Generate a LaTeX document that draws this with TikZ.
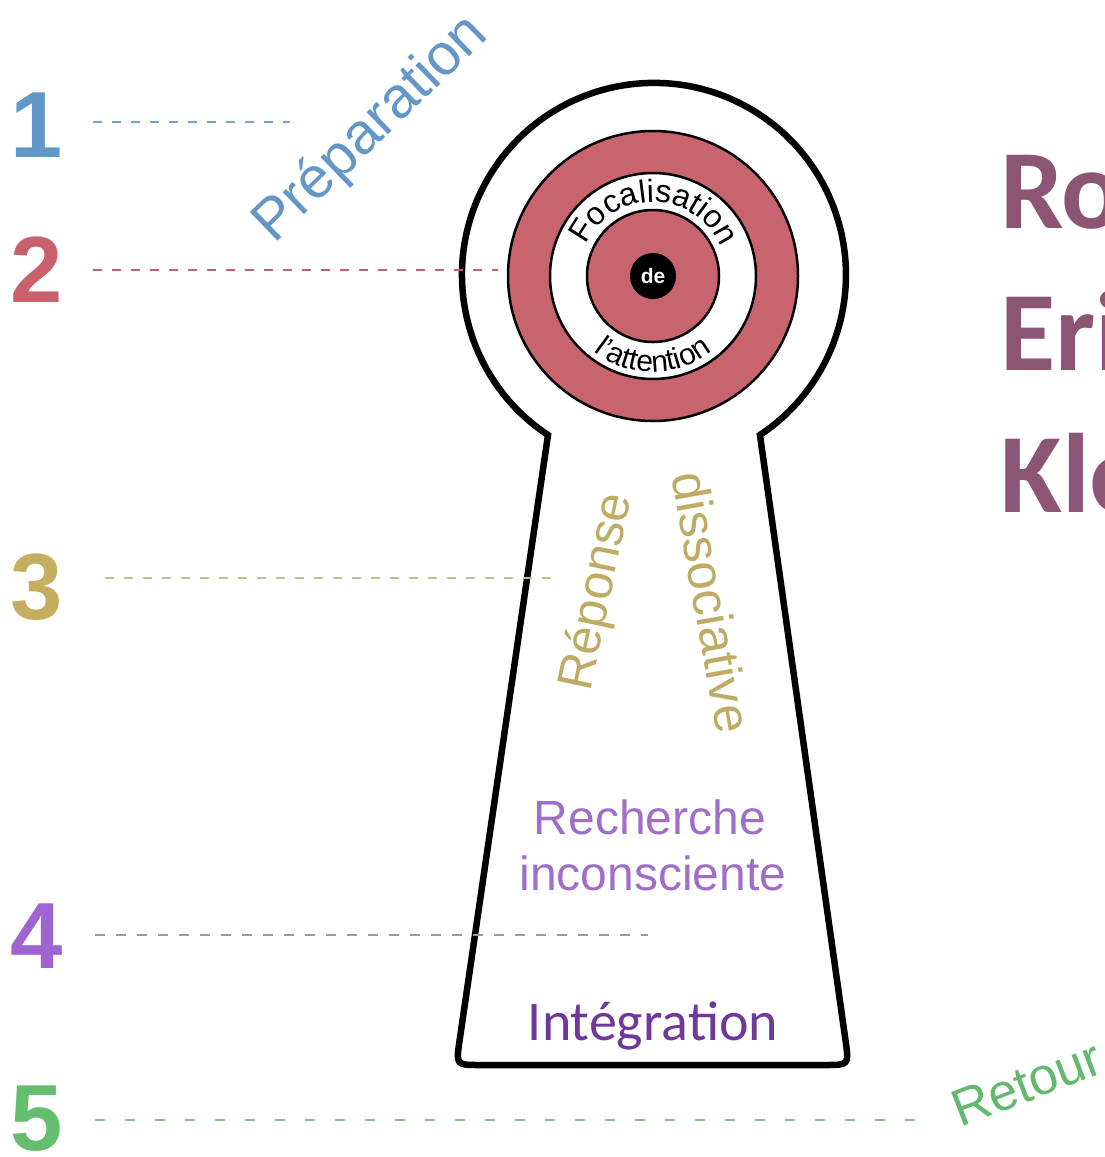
\documentclass[tikz,border=0pt]{standalone}
\usepackage{fontspec}
\setmainfont{Liberation Sans}
\newfontfamily\carlito{Carlito}
\usetikzlibrary{decorations.text,calc}
\definecolor{numblue}{RGB}{98,152,200}
\definecolor{numred}{RGB}{200,96,110}
\definecolor{numgold}{RGB}{196,174,96}
\definecolor{numpurple}{RGB}{160,100,210}
\definecolor{numgreen}{RGB}{100,190,110}
\definecolor{ringred}{RGB}{200,100,110}
\definecolor{titlecol}{RGB}{140,85,115}
\definecolor{textgold}{RGB}{190,172,100}
\definecolor{textpurple}{RGB}{160,110,200}
\definecolor{intpurple}{RGB}{112,56,156}
\definecolor{retourgreen}{RGB}{100,185,110}
\definecolor{prepblue}{RGB}{100,150,200}
\definecolor{dblue}{RGB}{120,160,200}
\definecolor{dred}{RGB}{190,100,110}
\definecolor{dgold}{RGB}{195,190,140}
\definecolor{dgray}{RGB}{155,150,170}
\definecolor{dgreen}{RGB}{130,195,140}
\begin{document}
\begin{tikzpicture}[x=1pt,y=1pt,
  num/.style={anchor=base west, inner sep=0pt, font=\fontsize{94}{94}\selectfont\bfseries},
  lbl/.style={inner sep=0pt},
  dashln/.style={line width=2.8pt, dash pattern=on 9pt off 10pt},
  ringline/.style={draw=black, line width=2.5pt},
  titletxt/.style={anchor=base west, inner sep=0pt, text=titlecol, font=\carlito\bfseries\fontsize{113}{113}\selectfont}
]
\path[fill=white, use as bounding box] (0,0) rectangle (1105,-1157);

% keyhole
\draw[line width=6.5pt, fill=white]
  (548,-435) arc[start angle=236.5, end angle=-56.5, radius=192]
  -- (845.6,-1041) .. controls (849,-1065) .. (825,-1065)
  -- (480,-1065) .. controls (456,-1065) .. (459.5,-1041)
  -- cycle;

% dashed guide lines
\coordinate (d1s) at (93,-122);  \coordinate (d1e) at (290,-122);
\coordinate (d2s) at (93,-270);  \coordinate (d2e) at (498,-270);
\coordinate (d3s) at (105,-578); \coordinate (d3e) at (553,-578);
\coordinate (d4s) at (95,-935);  \coordinate (d4e) at (648,-935);
\coordinate (d5s) at (95,-1120); \coordinate (d5e) at (930,-1120);
\draw[dashln, dblue] (d1s) -- (d1e);
\draw[dashln, dred] (d2s) -- (d2e);
\draw[dashln, dgold] (d3s) -- (d3e);
\draw[dashln, dgray, dash pattern=on 10pt off 11pt] (d4s) -- (d4e);
\draw[dashln, dgreen, dash pattern=on 10pt off 20pt] (d5s) -- (d5e);

% numbers
\node[num, text=numblue] (n1) at (10,-157) {1};
\node[num, text=numred] (n2) at (10,-302) {2};
\node[num, text=numgold] (n3) at (10,-619) {3};
\node[num, text=numpurple] (n4) at (10,-968) {4};
\node[num, text=numgreen] (n5) at (10,-1150) {5};

% target
\coordinate (C) at (653,-276);
\fill[ringred] (C) circle (145);
\draw[ringline] (C) circle (145);
\fill[white] (C) circle (103);
\draw[ringline] (C) circle (103);
\fill[ringred] (C) circle (66);
\draw[ringline] (C) circle (66);
\node[circle, fill=black, minimum size=46pt, inner sep=0pt, text=white,
      font=\fontsize{21}{21}\selectfont\bfseries] (de) at (C) {de};
\path[decorate, decoration={text along path, text align=center,
      text={|\fontsize{32}{32}\selectfont|Focalisation}}]
  ($(C)+(178:74)$) arc[start angle=178, end angle=0, radius=74];
\path[decorate, decoration={text along path, text align=center,
      text={|\fontsize{30}{30}\selectfont|l'attention}}]
  ($(C)+(200:96)$) arc[start angle=200, end angle=340, radius=96];

% labels
\node[lbl, anchor=base west, rotate=44, text=prepblue, font=\fontsize{58}{58}\selectfont] (prep) at (274,-245) {Préparation};
\node[lbl, rotate=78, text=textgold, font=\fontsize{50}{50}\selectfont] (rep) at (598,-592) {Réponse};
\node[lbl, rotate=-80, text=textgold, font=\fontsize{51}{51}\selectfont] (dis) at (712,-602) {dissociative};
\node[lbl, anchor=base, text=textpurple, font=\fontsize{48}{48}\selectfont] (rech) at (650,-834) {Recherche};
\node[lbl, anchor=base, text=textpurple, font=\fontsize{48}{48}\selectfont] (inco) at (653,-890) {inconsciente};
\node[lbl, anchor=base, text=intpurple, font=\carlito\fontsize{56}{56}\selectfont] (integ) at (653,-1040) {Intégration};
\node[lbl, anchor=base west, rotate=21, text=retourgreen, font=\fontsize{52}{52}\selectfont] (ret) at (960,-1128) {Retour};

% title (cut by the page edge)
\node[titletxt] (t1) at (1000,-228) {Ro};
\node[titletxt] (t2) at (1000,-370) {Eri};
\node[titletxt] (t3) at (1000,-512) {Kle};
\end{tikzpicture}
\end{document}
